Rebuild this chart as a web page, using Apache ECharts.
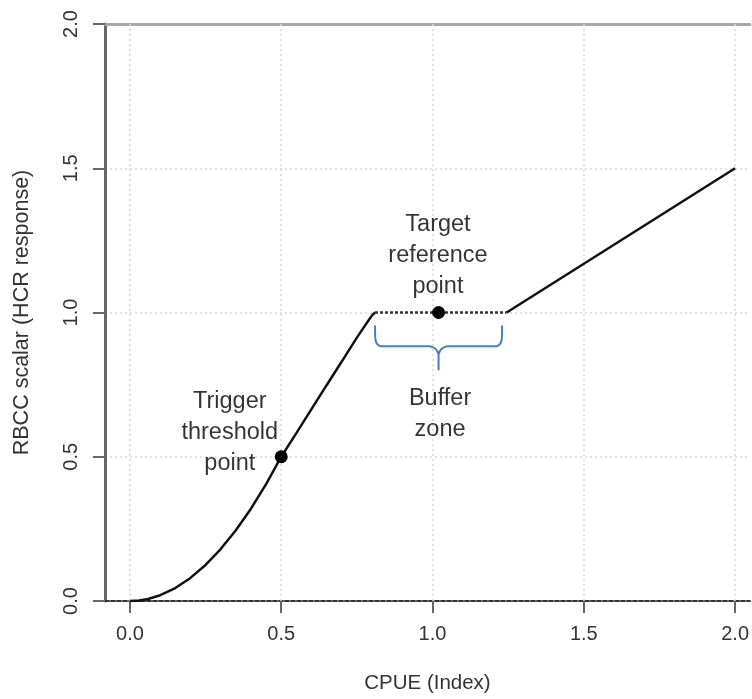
<!DOCTYPE html>
<html>
<head>
<meta charset="utf-8">
<script src="https://cdn.jsdelivr.net/npm/echarts@6/dist/echarts.min.js"></script>
<style>
html,body{margin:0;padding:0;background:#fff;}
#chart{width:752px;height:699px;}
</style>
</head>
<body>
<div id="chart"></div>
<script>
// HCR curve
var curveX = [0, 0.03, 0.06, 0.1, 0.15, 0.2, 0.25, 0.3, 0.35, 0.4, 0.45, 0.5, 0.55, 0.6, 0.65, 0.7, 0.75, 0.775, 0.79, 0.8, 0.81];
var curveY = [0, 0.0015, 0.007, 0.02, 0.045, 0.08, 0.125, 0.18, 0.245, 0.32, 0.405, 0.5, 0.582, 0.665, 0.748, 0.83, 0.913, 0.952, 0.975, 0.99, 1.0];
var flatX = [0.81, 1.245];
var flatY = [1.0, 1.0];
var rampX = [1.245, 2.0];
var rampY = [1.0, 1.5];
var dotX = [0.5, 1.02];
var dotY = [0.5, 1.0];
// brace under the buffer zone
var braceX = [0.81, 0.811, 0.816, 0.828, 0.99, 1.006, 1.016, 1.02, 1.02, 1.02, 1.024, 1.034, 1.05, 1.212, 1.224, 1.229, 1.23];
var braceY = [0.955, 0.91, 0.892, 0.883, 0.883, 0.877, 0.866, 0.85, 0.80, 0.85, 0.866, 0.877, 0.883, 0.883, 0.892, 0.91, 0.955];
var xTicks = [0, 0.5, 1.0, 1.5, 2.0];
var xTickLabels = ['0.0', '0.5', '1.0', '1.5', '2.0'];
var yTickLabels = ['0.0', '0.5', '1.0', '1.5', '2.0'];
var notes = [
  {x: 0.33, y: 0.584, text: 'Trigger\nthreshold\npoint'},
  {x: 1.018, y: 1.197, text: 'Target\nreference\npoint'},
  {x: 1.025, y: 0.647, text: 'Buffer\nzone'}
];

function pairs(xs, ys){ return xs.map(function(v, i){ return [v, ys[i]]; }); }

var chart = echarts.init(document.getElementById('chart'));
var font = 'Liberation Sans, Arial, sans-serif';
var option = {
  animation: false,
  grid: {left: 105, right: 0, top: 24, bottom: 95},
  xAxis: [{
    type: 'value', min: -0.0824, max: 2.049,
    name: 'CPUE (Index)', nameLocation: 'middle', nameGap: 72,
    nameTextStyle: {fontFamily: font, fontSize: 20.5, color: '#333'},
    axisLine: {show: true, onZero: false, lineStyle: {color: '#333', width: 2, type: [4, 2]}},
    axisTick: {show: true, customValues: xTicks, length: 12, lineStyle: {color: '#666', width: 2}},
    axisLabel: {customValues: xTicks, margin: 23, fontFamily: font, fontSize: 20, color: '#333',
      formatter: function(v){ return xTickLabels[xTicks.indexOf(v)] || ''; }},
    splitLine: {show: false}
  }, {
    type: 'value', position: 'top', min: -0.0824, max: 2.049,
    axisLine: {show: true, onZero: false, lineStyle: {color: '#a8a8a8', width: 3}},
    axisTick: {show: false}, axisLabel: {show: false}, splitLine: {show: false}
  }],
  yAxis: {
    type: 'value', min: 0, max: 2, interval: 0.5,
    name: 'RBCC scalar (HCR response)', nameLocation: 'middle', nameGap: 72,
    nameTextStyle: {fontFamily: font, fontSize: 21.5, color: '#333'},
    axisLine: {show: true, onZero: false, lineStyle: {color: '#666', width: 3}},
    axisTick: {show: true, length: 12, lineStyle: {color: '#666', width: 2}},
    axisLabel: {rotate: 90, margin: 24, fontFamily: font, fontSize: 20, color: '#333',
      formatter: function(v){ return yTickLabels[Math.round(v / 0.5)]; }},
    splitLine: {show: true, showMinLine: false, showMaxLine: false,
      lineStyle: {color: '#d8d8d8', width: 1.5, type: [2, 3]}}
  },
  series: [
    {
      type: 'line', data: pairs(curveX, curveY), showSymbol: false,
      lineStyle: {color: '#111', width: 2.5}, z: 5,
      markLine: {
        silent: true, symbol: 'none', label: {show: false},
        lineStyle: {color: '#d8d8d8', width: 1.5, type: [2, 3]},
        data: xTicks.map(function(v){ return {xAxis: v}; })
      }
    },
    {type: 'line', data: pairs(flatX, flatY), showSymbol: false,
      lineStyle: {color: '#333', width: 2.5, type: [3, 2]}, z: 5},
    {type: 'line', data: pairs(rampX, rampY), showSymbol: false,
      lineStyle: {color: '#111', width: 2.5}, z: 5},
    {type: 'line', data: pairs(braceX, braceY), showSymbol: false, smooth: 0.2,
      lineStyle: {color: '#4a7ebb', width: 2}, z: 4},
    {type: 'scatter', data: pairs(dotX, dotY), symbolSize: 13,
      itemStyle: {color: '#000', opacity: 1}, z: 6},
    {type: 'scatter', symbolSize: 0, z: 7,
      data: notes.map(function(n){ return {value: [n.x, n.y], label: {formatter: n.text}}; }),
      label: {show: true, position: 'inside', fontFamily: font, fontSize: 23.5, lineHeight: 31, color: '#000', align: 'center'}}
  ]
};
chart.setOption(option);
</script>
</body>
</html>
